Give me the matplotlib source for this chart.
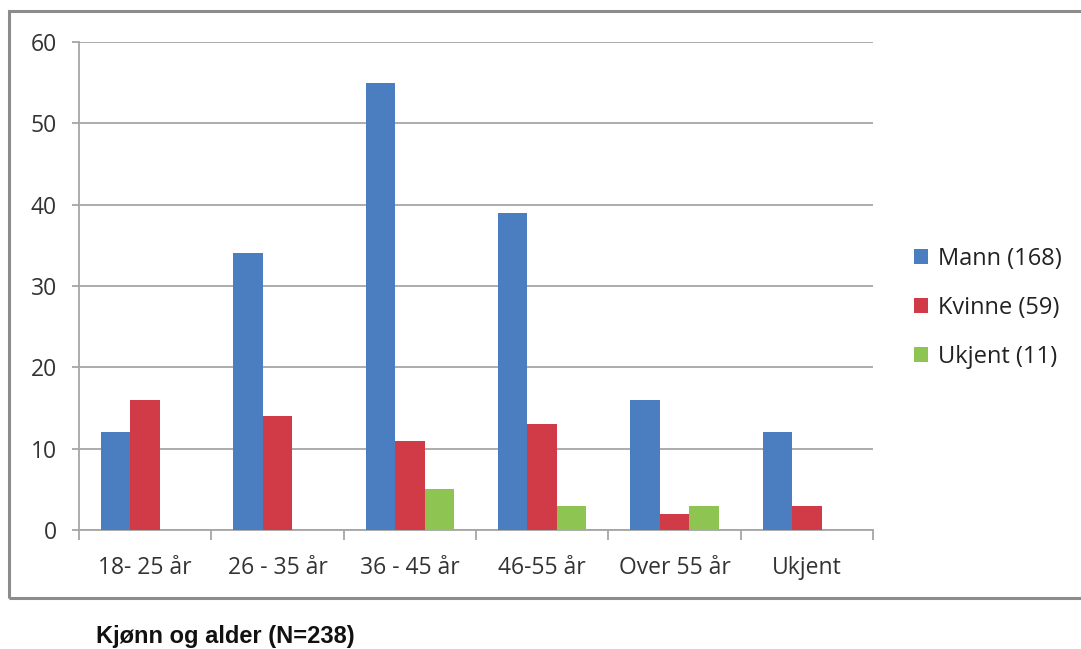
import numpy as np
import matplotlib.pyplot as plt
from matplotlib.patches import Rectangle

# Antall per aldersgruppe, fordelt på kjønn
groups = ['18- 25 år', '26 - 35 år', '36 - 45 år', '46-55 år', 'Over 55 år', 'Ukjent']
mann = [12, 34, 55, 39, 16, 12]
kvinne = [16, 14, 11, 13, 2, 3]
ukjent = [0, 0, 5, 3, 3, 0]
series_labels = ['Mann (168)', 'Kvinne (59)', 'Ukjent (11)']
colors = ['#4A7EC1', '#D03B47', '#8DC452']
yticks = [0, 10, 20, 30, 40, 50, 60]

plt.rcParams['font.family'] = ['Open Sans', 'DejaVu Sans']
fig = plt.figure(figsize=(10.81, 6.49), dpi=100)

# outer frame around chart area
fig.patches.append(Rectangle((0.0083, 0.0786), 1.05, 0.905, transform=fig.transFigure,
                             fill=False, edgecolor='#8c8c8c', linewidth=2.2))

ax = fig.add_axes([0.0731, 0.1834, 0.7345, 0.7519])
x = np.arange(len(groups))
w = 0.223
for i, (vals, lab, c) in enumerate(zip([mann, kvinne, ukjent], series_labels, colors)):
    ax.bar(x + (i - 1) * w, vals, width=w, color=c, label=lab, zorder=3)

ax.set_xlim(-0.5, len(groups) - 0.5)
ax.set_ylim(0, 60)
ax.set_yticks(yticks)
ax.yaxis.grid(True, color='#a6a6a6', linewidth=1.3, zorder=0)
for s in ['top', 'right']:
    ax.spines[s].set_visible(False)
for s in ['left', 'bottom']:
    ax.spines[s].set_color('#a6a6a6')
    ax.spines[s].set_linewidth(1.3)

ax.set_xticks(x)
ax.set_xticklabels(groups)
ax.set_xticks(np.arange(len(groups) + 1) - 0.5, minor=True)
ax.tick_params(axis='x', which='major', length=0, pad=19, labelsize=16.5, labelcolor='#333333')
ax.tick_params(axis='x', which='minor', length=7, width=1.3, color='#a6a6a6')
ax.tick_params(axis='y', length=5, width=1.3, color='#a6a6a6', pad=11, labelsize=16.5,
               labelcolor='#333333')

ax.legend(loc='center left', bbox_to_anchor=(1.025, 0.455), frameon=False, fontsize=17,
          handlelength=0.6, handleheight=0.6, handletextpad=0.4, labelspacing=1.05,
          labelcolor='#222222')

fig.text(0.089, 0.01, 'Kjønn og alder (N=238)', fontsize=17, fontweight='bold',
         family='Liberation Sans', color='#111111')

fig.savefig('out.png', dpi=100)
